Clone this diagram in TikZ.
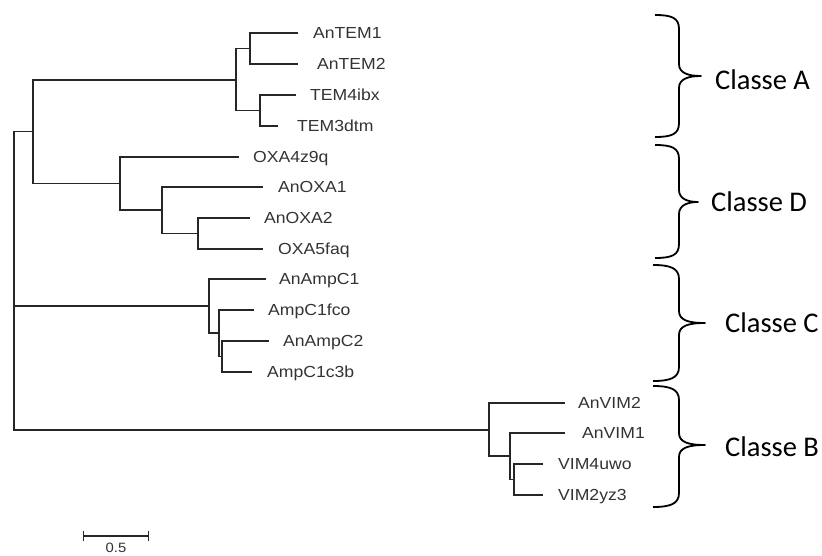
\documentclass[tikz,border=0pt]{standalone}
\usepackage{fontspec}
\newfontfamily\leaffont[FakeStretch=1.1]{Liberation Sans}
\newfontfamily\classfont{Carlito}
\usetikzlibrary{arrows.meta}

\begin{document}
\begin{tikzpicture}[
  x=1pt,y=-1pt,
  branch/.style={draw=black!85,line width=1.4pt},
  leaf/.style={anchor=base west,inner sep=0pt,yshift=-5.7pt,text=black!80,
               font=\leaffont\fontsize{16}{18}\selectfont},
  classe/.style={anchor=base west,inner sep=0pt,yshift=-9.2pt,
                 font=\classfont\fontsize{28.5}{32}\selectfont},
  brace/.style={draw=black,line width=1.8pt,line join=round},
  scalebar/.style={draw=black!85,line width=1.4pt,
                   {Bar[width=10pt,line width=1.4pt]}-{Bar[width=10pt,line width=1.4pt]}}
]
\useasboundingbox (0,0) rectangle (822,556);

% inner nodes of the tree (x = depth, y = middle of the clade)
\coordinate (root)   at (14,280.5);
\coordinate (nAD)    at (33,131.5);
\coordinate (nTEM)   at (236,80);
\coordinate (nTEM12) at (250,48.5);
\coordinate (nTEM43) at (260,110.5);
\coordinate (nOXA)   at (120,183.5);
\coordinate (nOXA12) at (162,210);
\coordinate (nOXA25) at (198,233.5);
\coordinate (nAmpC)  at (209,306);
\coordinate (nAmpC2) at (219,333);
\coordinate (nAmpC3) at (222,356.5);
\coordinate (nVIM)   at (489,430);
\coordinate (nVIM2)  at (510,456);
\coordinate (nVIM3)  at (514,479.5);

% leaf tips
\coordinate (tAnTEM1)   at (298,33);
\coordinate (tAnTEM2)   at (298,64);
\coordinate (tTEM4ibx)  at (296,95);
\coordinate (tTEM3dtm)  at (278,126);
\coordinate (tOXA4z9q)  at (239,157);
\coordinate (tAnOXA1)   at (263,187);
\coordinate (tAnOXA2)   at (250,218);
\coordinate (tOXA5faq)  at (263,249);
\coordinate (tAnAmpC1)  at (266,279);
\coordinate (tAmpC1fco) at (254,310);
\coordinate (tAnAmpC2)  at (269,341);
\coordinate (tAmpC1c3b) at (252,372);
\coordinate (tAnVIM2)   at (565,403);
\coordinate (tAnVIM1)   at (565,433);
\coordinate (tVIM4uwo)  at (543,464);
\coordinate (tVIM2yz3)  at (543,495);

\node[leaf] (AnTEM1)   at (313,33)  {AnTEM1};
\node[leaf] (AnTEM2)   at (317,64)  {AnTEM2};
\node[leaf] (TEM4ibx)  at (310,95)  {TEM4ibx};
\node[leaf] (TEM3dtm)  at (297,126) {TEM3dtm};
\node[leaf] (OXA4z9q)  at (253,157) {OXA4z9q};
\node[leaf] (AnOXA1)   at (278,187) {AnOXA1};
\node[leaf] (AnOXA2)   at (264,218) {AnOXA2};
\node[leaf] (OXA5faq)  at (278,249) {OXA5faq};
\node[leaf] (AnAmpC1)  at (279,279) {AnAmpC1};
\node[leaf] (AmpC1fco) at (268,310) {AmpC1fco};
\node[leaf] (AnAmpC2)  at (283,341) {AnAmpC2};
\node[leaf] (AmpC1c3b) at (267,372) {AmpC1c3b};
\node[leaf] (AnVIM2)   at (578,403) {AnVIM2};
\node[leaf] (AnVIM1)   at (582,433) {AnVIM1};
\node[leaf] (VIM4uwo)  at (558,464) {VIM4uwo};
\node[leaf] (VIM2yz3)  at (558,495) {VIM2yz3};

\draw[branch] (root) |- (nAD);
\draw[branch] (root) |- (nAmpC);
\draw[branch] (root) |- (nVIM);
\draw[branch] (nAD) |- (nTEM);
\draw[branch] (nAD) |- (nOXA);
\draw[branch] (nTEM) |- (nTEM12);
\draw[branch] (nTEM) |- (nTEM43);
\draw[branch] (nTEM12) |- (tAnTEM1);
\draw[branch] (nTEM12) |- (tAnTEM2);
\draw[branch] (nTEM43) |- (tTEM4ibx);
\draw[branch] (nTEM43) |- (tTEM3dtm);
\draw[branch] (nOXA) |- (tOXA4z9q);
\draw[branch] (nOXA) |- (nOXA12);
\draw[branch] (nOXA12) |- (tAnOXA1);
\draw[branch] (nOXA12) |- (nOXA25);
\draw[branch] (nOXA25) |- (tAnOXA2);
\draw[branch] (nOXA25) |- (tOXA5faq);
\draw[branch] (nAmpC) |- (tAnAmpC1);
\draw[branch] (nAmpC) |- (nAmpC2);
\draw[branch] (nAmpC2) |- (tAmpC1fco);
\draw[branch] (nAmpC2) |- (nAmpC3);
\draw[branch] (nAmpC3) |- (tAnAmpC2);
\draw[branch] (nAmpC3) |- (tAmpC1c3b);
\draw[branch] (nVIM) |- (tAnVIM2);
\draw[branch] (nVIM) |- (nVIM2);
\draw[branch] (nVIM2) |- (tAnVIM1);
\draw[branch] (nVIM2) |- (nVIM3);
\draw[branch] (nVIM3) |- (tVIM4uwo);
\draw[branch] (nVIM3) |- (tVIM2yz3);

% braces: top / tip / bottom / tip x / left end x
\foreach \t/\m/\b/\tx/\lx in {15/76/137/701/655,145/202/258/698/655,
                               265/323/381/705/653,386/445/507/705/653}{
  \draw[brace] (\lx,\t) .. controls (\lx+17,\t) and (679,\t+3) .. (679,\t+14)
    -- (679,\m-12) .. controls (679,\m-3) and (688,\m) .. (\tx,\m)
    .. controls (688,\m) and (679,\m+3) .. (679,\m+12)
    -- (679,\b-14) .. controls (679,\b-3) and (\lx+17,\b) .. (\lx,\b);
}
\node[classe] (classeA) at (715,80)  {Classe A};
\node[classe] (classeD) at (711,202) {Classe D};
\node[classe] (classeC) at (725,323) {Classe C};
\node[classe] (classeB) at (725,447) {Classe B};

\coordinate (barL) at (83,536);
\coordinate (barR) at (149,536);
\draw[scalebar] (barL) -- (barR);
\node[anchor=base,inner sep=0pt,text=black!80,font=\leaffont\fontsize{13.5}{16}\selectfont]
  (barlabel) at (116,552) {0.5};
\end{tikzpicture}
\end{document}
